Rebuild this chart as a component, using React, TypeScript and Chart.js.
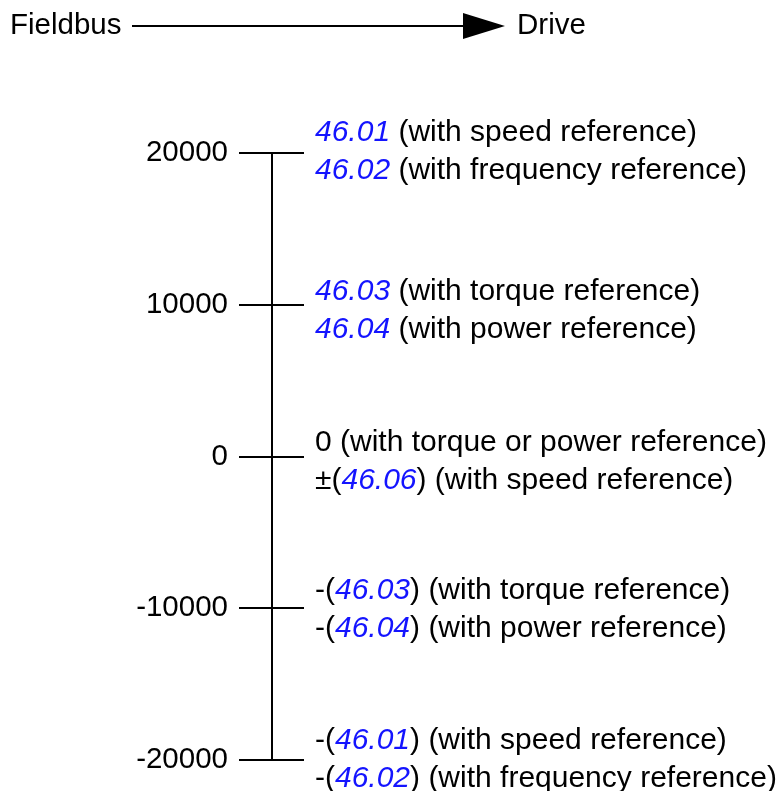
import React, { useEffect, useRef } from "react";
import { Chart, registerables } from "chart.js";

Chart.register(...registerables);

type Segment = [string, boolean];

const tickValues = [20000, 10000, 0, -10000, -20000];
const tickLabels = ["20000", "10000", "0", "-10000", "-20000"];
const descriptions: Segment[][][] = [
  [
    [["46.01", true], [" (with speed reference)", false]],
    [["46.02", true], [" (with frequency reference)", false]],
  ],
  [
    [["46.03", true], [" (with torque reference)", false]],
    [["46.04", true], [" (with power reference)", false]],
  ],
  [
    [["0 (with torque or power reference)", false]],
    [["±(", false], ["46.06", true], [") (with speed reference)", false]],
  ],
  [
    [["-(", false], ["46.03", true], [") (with torque reference)", false]],
    [["-(", false], ["46.04", true], [") (with power reference)", false]],
  ],
  [
    [["-(", false], ["46.01", true], [") (with speed reference)", false]],
    [["-(", false], ["46.02", true], [") (with frequency reference)", false]],
  ],
];
const headerLeft = "Fieldbus";
const headerRight = "Drive";

// layout (not data): baseline offset of the first description line per row
const ROW_BASELINE_OFFSET = [-12, -5, -6, -9, -11];
const LINE_GAP = 38;

const FONT_FAMILY = '"Liberation Sans", Arial, sans-serif';
const FONT_SIZE = 29.5;
const DESC_FONT_SIZE = 30;
const BLUE = "rgb(20,20,255)";

const textPlugin = {
  id: "diagramText",
  afterDraw(chart: any) {
    const ctx = chart.ctx as CanvasRenderingContext2D;
    const y = chart.scales.y;
    const area = chart.chartArea;
    ctx.save();
    ctx.textBaseline = "alphabetic";
    ctx.textAlign = "left";
    // header
    ctx.font = `${FONT_SIZE}px ${FONT_FAMILY}`;
    ctx.fillStyle = "#000";
    ctx.fillText(headerLeft, 10, 34);
    ctx.fillText(headerRight, 517, 34);
    ctx.strokeStyle = "#000";
    ctx.lineWidth = 2;
    ctx.beginPath();
    ctx.moveTo(132, 26);
    ctx.lineTo(466, 26);
    ctx.stroke();
    ctx.beginPath();
    ctx.moveTo(463, 13);
    ctx.lineTo(505, 26);
    ctx.lineTo(463, 39);
    ctx.closePath();
    ctx.fill();
    // descriptions
    const x0 = area.right + 11;
    descriptions.forEach((lines, i) => {
      const py = y.getPixelForValue(tickValues[i]);
      lines.forEach((segs, j) => {
        const by = py + ROW_BASELINE_OFFSET[i] + j * LINE_GAP;
        let x = x0;
        segs.forEach(([txt, blue]) => {
          ctx.font = `${blue ? "italic " : ""}${DESC_FONT_SIZE}px ${FONT_FAMILY}`;
          ctx.fillStyle = blue ? BLUE : "#000";
          ctx.fillText(txt, x, by);
          x += ctx.measureText(txt).width;
        });
      });
    });
    ctx.restore();
  },
};

export default function App() {
  const ref = useRef<HTMLCanvasElement>(null);
  useEffect(() => {
    if (!ref.current) return;
    const chart = new Chart(ref.current, {
      type: "scatter",
      data: { datasets: [] },
      options: {
        animation: false,
        responsive: false,
        devicePixelRatio: 1,
        plugins: { legend: { display: false }, tooltip: { enabled: false } },
        layout: { padding: { top: 153, bottom: 31, left: 0, right: 476 } },
        scales: {
          x: { type: "linear", display: false, min: 0, max: 1 },
          y: {
            type: "linear",
            position: "left",
            min: -20000,
            max: 20000,
            afterBuildTicks: (scale: any) => {
              scale.ticks = tickValues.map((v) => ({ value: v }));
            },
            afterFit: (scale: any) => {
              scale.width = 272;
            },
            ticks: {
              color: "#000",
              padding: 11,
              font: { family: FONT_FAMILY, size: FONT_SIZE },
              callback: (v: any) => {
                const idx = tickValues.indexOf(Number(v));
                return idx >= 0 ? tickLabels[idx] : "";
              },
            },
            grid: {
              color: "#000",
              lineWidth: 2,
              tickLength: 33,
              tickWidth: 2,
              tickColor: "#000",
              drawOnChartArea: true,
            },
            border: { display: true, color: "#000", width: 2 },
          },
        },
      },
      plugins: [textPlugin],
    } as any);
    return () => chart.destroy();
  }, []);
  return (
    <div style={{ position: "fixed", left: 0, top: 0, width: 780, height: 791, background: "#fff" }}>
      <canvas ref={ref} width={780} height={791} style={{ display: "block" }} />
    </div>
  );
}
